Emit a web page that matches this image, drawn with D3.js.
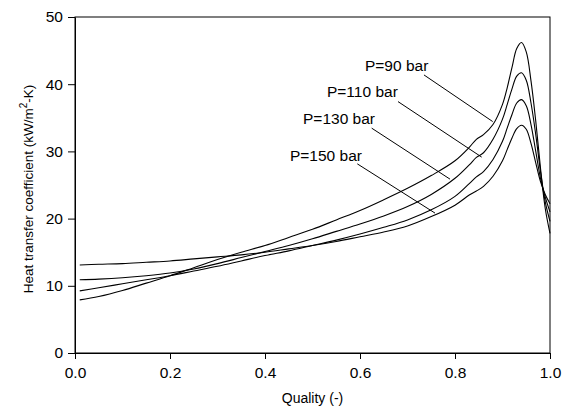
<!DOCTYPE html>
<html>
<head>
<meta charset="utf-8">
<script src="https://cdn.jsdelivr.net/npm/d3@7"></script>
<style>
  html, body { margin: 0; padding: 0; background: #fff; }
  svg { display: block; font-family: "Liberation Sans", Arial, Helvetica, sans-serif; }
</style>
</head>
<body>
<svg id="chart" width="569" height="419"></svg>
<script>
// Vapour quality (x axis)
const quality = [0.01, 0.05, 0.10, 0.15, 0.20, 0.25, 0.30, 0.35, 0.40, 0.45, 0.50, 0.55, 0.60, 0.65, 0.70, 0.75, 0.80, 0.83, 0.845, 0.86, 0.88, 0.90, 0.91, 0.92, 0.93, 0.94, 0.95, 0.96, 0.97, 0.98, 0.99, 1.00];

// Heat transfer coefficient, kW/m2-K, one series per pressure
const h90  = [7.9, 8.4, 9.3, 10.4, 11.5, 12.7, 13.9, 15.0, 16.0, 17.2, 18.4, 19.8, 21.2, 22.8, 24.5, 26.4, 28.6, 30.6, 31.8, 32.5, 34.0, 37.0, 39.5, 42.5, 45.3, 46.2, 44.8, 40.5, 34.5, 27.5, 21.5, 17.8];
const h110 = [10.9, 11.0, 11.2, 11.5, 11.9, 12.5, 13.3, 14.2, 15.1, 16.0, 17.0, 18.1, 19.2, 20.4, 21.8, 23.6, 26.0, 28.0, 29.1, 29.8, 31.8, 34.8, 37.0, 39.3, 41.2, 41.7, 40.6, 37.2, 32.5, 27.0, 22.5, 19.6];
const h130 = [9.25, 9.7, 10.3, 10.9, 11.5, 12.2, 12.9, 13.7, 14.5, 15.2, 16.0, 16.8, 17.7, 18.7, 19.8, 21.3, 23.3, 25.2, 26.2, 27.0, 28.8, 31.5, 33.5, 35.5, 37.2, 37.7, 36.8, 34.0, 30.0, 26.0, 23.2, 21.0];
const h150 = [13.1, 13.2, 13.3, 13.5, 13.7, 14.0, 14.3, 14.6, 15.0, 15.5, 16.0, 16.6, 17.3, 18.0, 18.9, 20.3, 22.0, 23.5, 24.1, 24.8, 26.3, 28.6, 30.3, 32.0, 33.4, 33.9, 33.3, 31.2, 28.3, 25.5, 23.6, 22.2];

const seriesNames = ["P=90 bar", "P=110 bar", "P=130 bar", "P=150 bar"];
const seriesValues = [h90, h110, h130, h150];

// Callout for each curve: text anchor and leader line, in data units
const labelAt   = [[0.6105, 41.9], [0.5305, 38.1], [0.480, 34.1], [0.4526, 28.6]];
const leaderFrom = [[0.7347, 41.38], [0.680, 37.41], [0.6246, 33.46], [0.5943, 28.15]];
const leaderTo   = [[0.8794, 34.44], [0.8562, 29.15], [0.7895, 25.87], [0.7579, 20.82]];

const xTicks = [0, 0.2, 0.4, 0.6, 0.8, 1.0];
const yTicks = [0, 10, 20, 30, 40, 50];

const margin = { left: 75, right: 19, top: 17, bottom: 66 };
const W = 569, H = 419;
const svg = d3.select("#chart");

const x = d3.scaleLinear().domain([0, 1]).range([margin.left, W - margin.right]);
const y = d3.scaleLinear().domain([0, 50]).range([H - margin.bottom, margin.top]);

// Plot frame
svg.append("rect")
  .attr("x", x(0)).attr("y", y(50))
  .attr("width", x(1) - x(0)).attr("height", y(0) - y(50))
  .attr("fill", "none").attr("stroke", "#000").attr("stroke-width", 1);

// Axes
const xAxis = svg.append("g")
  .attr("transform", `translate(0,${y(0)})`)
  .call(d3.axisBottom(x).tickValues(xTicks).tickFormat(d3.format(".1f")).tickSizeInner(6).tickSizeOuter(0).tickPadding(8));
const yAxis = svg.append("g")
  .attr("transform", `translate(${x(0)},0)`)
  .call(d3.axisLeft(y).tickValues(yTicks).tickFormat(d3.format("d")).tickSizeInner(7).tickSizeOuter(0).tickPadding(5));

[xAxis, yAxis].forEach(g => {
  g.select(".domain").attr("stroke", "#000");
  g.selectAll(".tick line").attr("stroke", "#000");
  g.selectAll(".tick text").attr("fill", "#000").attr("font-size", 15.5)
    .attr("font-family", '"Liberation Sans", Arial, sans-serif');
});

// Curves
const line = d3.line()
  .x((d, i) => x(quality[i]))
  .y(d => y(d))
  .curve(d3.curveCatmullRom.alpha(0.5));

svg.append("g").selectAll("path")
  .data(seriesValues)
  .join("path")
  .attr("d", line)
  .attr("fill", "none")
  .attr("stroke", "#000")
  .attr("stroke-width", 1.1);

// Callouts
const callouts = svg.append("g");
seriesNames.forEach((name, i) => {
  callouts.append("line")
    .attr("x1", x(leaderFrom[i][0])).attr("y1", y(leaderFrom[i][1]))
    .attr("x2", x(leaderTo[i][0])).attr("y2", y(leaderTo[i][1]))
    .attr("stroke", "#000").attr("stroke-width", 1);
  callouts.append("text")
    .attr("x", x(labelAt[i][0])).attr("y", y(labelAt[i][1]))
    .attr("font-size", 15.5)
    .attr("fill", "#000")
    .text(name);
});

// Axis titles
svg.append("text")
  .attr("x", (x(0) + x(1)) / 2).attr("y", 403)
  .attr("text-anchor", "middle").attr("font-size", 14).attr("fill", "#000")
  .text("Quality (-)");

const yTitle = svg.append("text")
  .attr("transform", `translate(33,${(y(0) + y(50)) / 2 + 4}) rotate(-90)`)
  .attr("text-anchor", "middle").attr("font-size", 13.5).attr("fill", "#000");
yTitle.append("tspan").text("Heat transfer coefficient (kW/m");
yTitle.append("tspan").attr("dy", -6).attr("font-size", 10).text("2");
yTitle.append("tspan").attr("dy", 6).text("-K)");
</script>
</body>
</html>
